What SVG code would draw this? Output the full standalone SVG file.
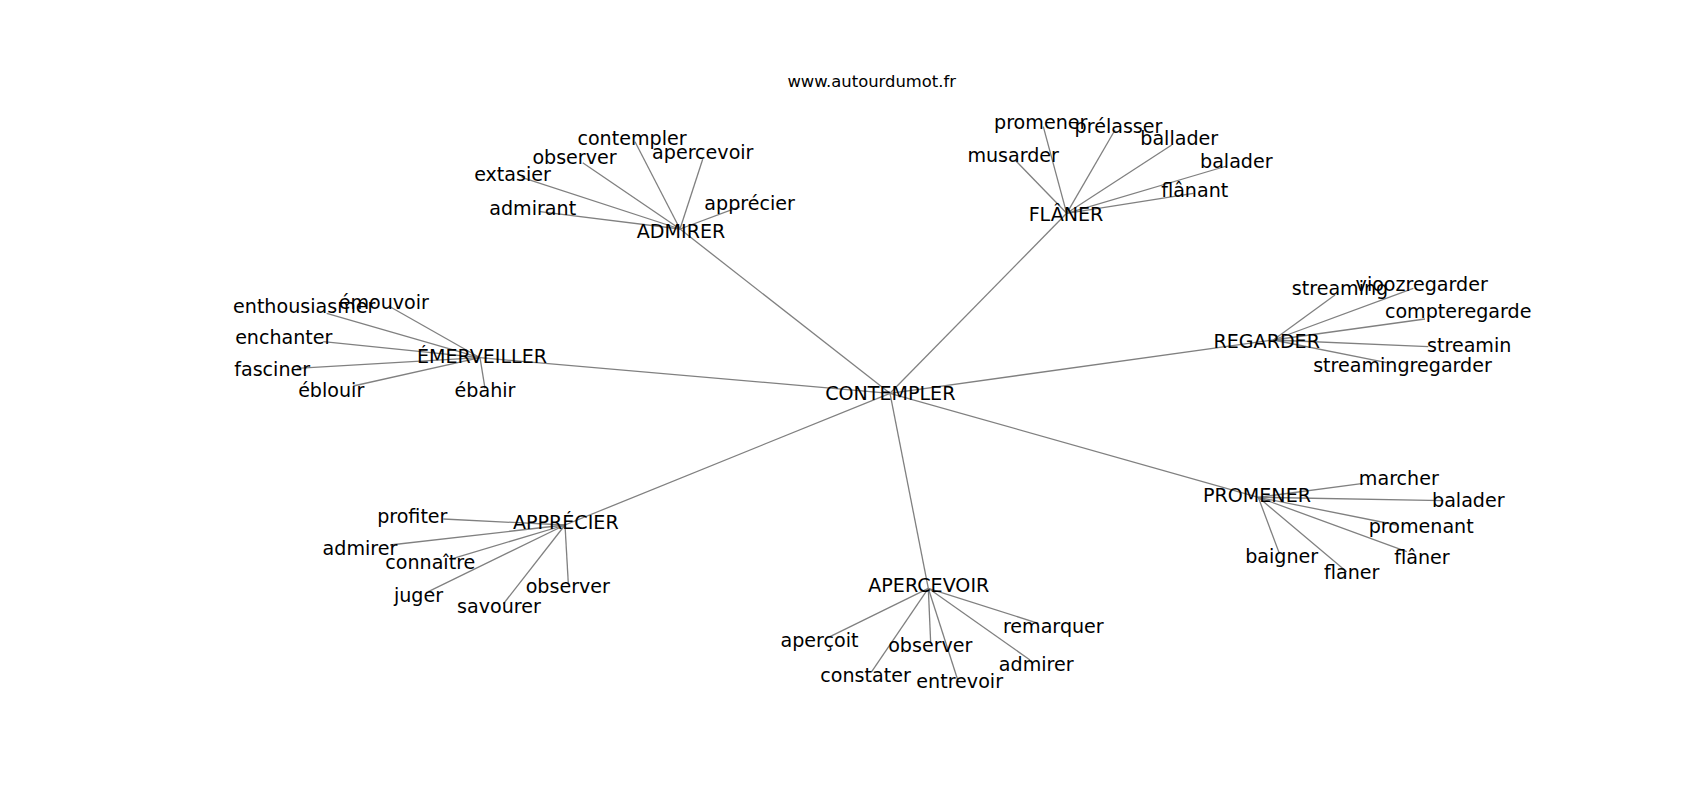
<svg xmlns="http://www.w3.org/2000/svg" width="1700" height="800" viewBox="0 0 1700 800">
<style>
.e line{stroke:#808080;stroke-width:1.3;fill:none}
text{font-family:"DejaVu Sans","Liberation Sans",sans-serif;font-size:19.1px;fill:#000;text-anchor:middle}
.t{font-size:16.4px}
</style>
<rect width="1700" height="800" fill="#fff"/>
<g id="connectors" class="e">
<line x1="890" y1="393.3" x2="680" y2="229"/>
<line x1="890" y1="393.3" x2="1066.7" y2="213.3"/>
<line x1="890" y1="393.3" x2="480" y2="357.7"/>
<line x1="890" y1="393.3" x2="1273.3" y2="340"/>
<line x1="890" y1="393.3" x2="565" y2="525"/>
<line x1="890" y1="393.3" x2="928.3" y2="588.3"/>
<line x1="890" y1="393.3" x2="1258.3" y2="497.3"/>
<line x1="680" y1="229" x2="635" y2="141.7"/>
<line x1="680" y1="229" x2="702.7" y2="159.3"/>
<line x1="680" y1="229" x2="582.7" y2="162.7"/>
<line x1="680" y1="229" x2="521.7" y2="177.3"/>
<line x1="680" y1="229" x2="540" y2="211.7"/>
<line x1="680" y1="229" x2="740" y2="206.7"/>
<line x1="1066.7" y1="213.3" x2="1043.3" y2="126.7"/>
<line x1="1066.7" y1="213.3" x2="1115" y2="130"/>
<line x1="1066.7" y1="213.3" x2="1171.7" y2="145"/>
<line x1="1066.7" y1="213.3" x2="1015" y2="160"/>
<line x1="1066.7" y1="213.3" x2="1226.7" y2="166"/>
<line x1="1066.7" y1="213.3" x2="1193.3" y2="193.3"/>
<line x1="480" y1="357.7" x2="326.7" y2="313.3"/>
<line x1="480" y1="357.7" x2="390" y2="306.7"/>
<line x1="480" y1="357.7" x2="323.3" y2="341.7"/>
<line x1="480" y1="357.7" x2="296.7" y2="368.3"/>
<line x1="480" y1="357.7" x2="353.3" y2="386"/>
<line x1="480" y1="357.7" x2="485" y2="388.3"/>
<line x1="1273.3" y1="340" x2="1335" y2="295"/>
<line x1="1273.3" y1="340" x2="1413.3" y2="288.3"/>
<line x1="1273.3" y1="340" x2="1425" y2="319"/>
<line x1="1273.3" y1="340" x2="1428.3" y2="346.7"/>
<line x1="1273.3" y1="340" x2="1386.7" y2="362.7"/>
<line x1="565" y1="525" x2="443.3" y2="519"/>
<line x1="565" y1="525" x2="390" y2="545"/>
<line x1="565" y1="525" x2="453.3" y2="558.3"/>
<line x1="565" y1="525" x2="428.3" y2="591.7"/>
<line x1="565" y1="525" x2="503.3" y2="604"/>
<line x1="565" y1="525" x2="568.3" y2="583.3"/>
<line x1="928.3" y1="588.3" x2="1038.3" y2="623.3"/>
<line x1="928.3" y1="588.3" x2="830" y2="636.7"/>
<line x1="928.3" y1="588.3" x2="930.7" y2="643.3"/>
<line x1="928.3" y1="588.3" x2="1030" y2="660"/>
<line x1="928.3" y1="588.3" x2="871.7" y2="671.7"/>
<line x1="928.3" y1="588.3" x2="958.3" y2="681.7"/>
<line x1="1258.3" y1="497.3" x2="1363.3" y2="483.3"/>
<line x1="1258.3" y1="497.3" x2="1443.3" y2="500.7"/>
<line x1="1258.3" y1="497.3" x2="1396.7" y2="525"/>
<line x1="1258.3" y1="497.3" x2="1406.7" y2="551.7"/>
<line x1="1258.3" y1="497.3" x2="1346.7" y2="571.7"/>
<line x1="1258.3" y1="497.3" x2="1279.3" y2="553.3"/>
</g>
<text class="t" x="871.7" y="87.3">www.autourdumot.fr</text>
<g id="n-contempler-center"><text x="890.3" y="400">CONTEMPLER</text></g>
<g id="n-admirer-hub"><text x="681" y="237.7">ADMIRER</text></g>
<g id="n-admirer-contempler"><text x="632" y="145">contempler</text></g>
<g id="n-admirer-apercevoir"><text x="702.8" y="159.3">apercevoir</text></g>
<g id="n-admirer-observer"><text x="574.5" y="164">observer</text></g>
<g id="n-admirer-extasier"><text x="512.5" y="181">extasier</text></g>
<g id="n-admirer-admirant"><text x="532.7" y="215">admirant</text></g>
<g id="n-admirer-apprecier"><text x="749.6" y="210">apprécier</text></g>
<g id="n-flaner-hub"><text x="1066" y="221">FLÂNER</text></g>
<g id="n-flaner-promener"><text x="1040.7" y="129.3">promener</text></g>
<g id="n-flaner-prelasser"><text x="1118.5" y="132.7">prélasser</text></g>
<g id="n-flaner-ballader"><text x="1179.2" y="145">ballader</text></g>
<g id="n-flaner-musarder"><text x="1013.2" y="162.3">musarder</text></g>
<g id="n-flaner-balader"><text x="1236.3" y="168.3">balader</text></g>
<g id="n-flaner-flanant"><text x="1194.7" y="196.7">flânant</text></g>
<g id="n-emerveiller-hub"><text x="482" y="363.3">ÉMERVEILLER</text></g>
<g id="n-emer-enthousiasmer"><text x="304.2" y="313.3">enthousiasmer</text></g>
<g id="n-emer-emouvoir"><text x="383.8" y="309">émouvoir</text></g>
<g id="n-emer-enchanter"><text x="283.8" y="344">enchanter</text></g>
<g id="n-emer-fasciner"><text x="272.2" y="376">fasciner</text></g>
<g id="n-emer-eblouir"><text x="331.2" y="397.3">éblouir</text></g>
<g id="n-emer-ebahir"><text x="485" y="397.3">ébahir</text></g>
<g id="n-regarder-hub"><text x="1266.7" y="348.3">REGARDER</text></g>
<g id="n-reg-streaming"><text x="1340" y="295">streaming</text></g>
<g id="n-reg-viooz"><text x="1421.7" y="290.7">vioozregarder</text></g>
<g id="n-reg-compte"><text x="1458.2" y="318.3">compteregarde</text></g>
<g id="n-reg-streamin"><text x="1469.2" y="351.7">streamin</text></g>
<g id="n-reg-streamingregarder"><text x="1402.5" y="371.7">streamingregarder</text></g>
<g id="n-apprecier-hub"><text x="565.8" y="529.3">APPRÉCIER</text></g>
<g id="n-app-profiter"><text x="412.3" y="522.7">profiter</text></g>
<g id="n-app-admirer"><text x="360" y="555">admirer</text></g>
<g id="n-app-connaitre"><text x="430.3" y="569.3">connaître</text></g>
<g id="n-app-observer"><text x="567.8" y="593.3">observer</text></g>
<g id="n-app-juger"><text x="418.5" y="601.7">juger</text></g>
<g id="n-app-savourer"><text x="499" y="613.3">savourer</text></g>
<g id="n-apercevoir-hub"><text x="928.8" y="591.7">APERCEVOIR</text></g>
<g id="n-ape-remarquer"><text x="1053.3" y="633.3">remarquer</text></g>
<g id="n-ape-apercoit"><text x="819.5" y="647.3">aperçoit</text></g>
<g id="n-ape-observer"><text x="930.3" y="651.7">observer</text></g>
<g id="n-ape-admirer"><text x="1036.2" y="670.7">admirer</text></g>
<g id="n-ape-constater"><text x="865.5" y="681.7">constater</text></g>
<g id="n-ape-entrevoir"><text x="959.7" y="688.3">entrevoir</text></g>
<g id="n-promener-hub"><text x="1257" y="502.3">PROMENER</text></g>
<g id="n-pro-marcher"><text x="1398.8" y="485">marcher</text></g>
<g id="n-pro-balader"><text x="1468.3" y="507.3">balader</text></g>
<g id="n-pro-promenant"><text x="1421.2" y="533.3">promenant</text></g>
<g id="n-pro-baigner"><text x="1281.7" y="563.3">baigner</text></g>
<g id="n-pro-flaner2"><text x="1422" y="564.3">flâner</text></g>
<g id="n-pro-flaner"><text x="1351.7" y="579.3">flaner</text></g>
</svg>
